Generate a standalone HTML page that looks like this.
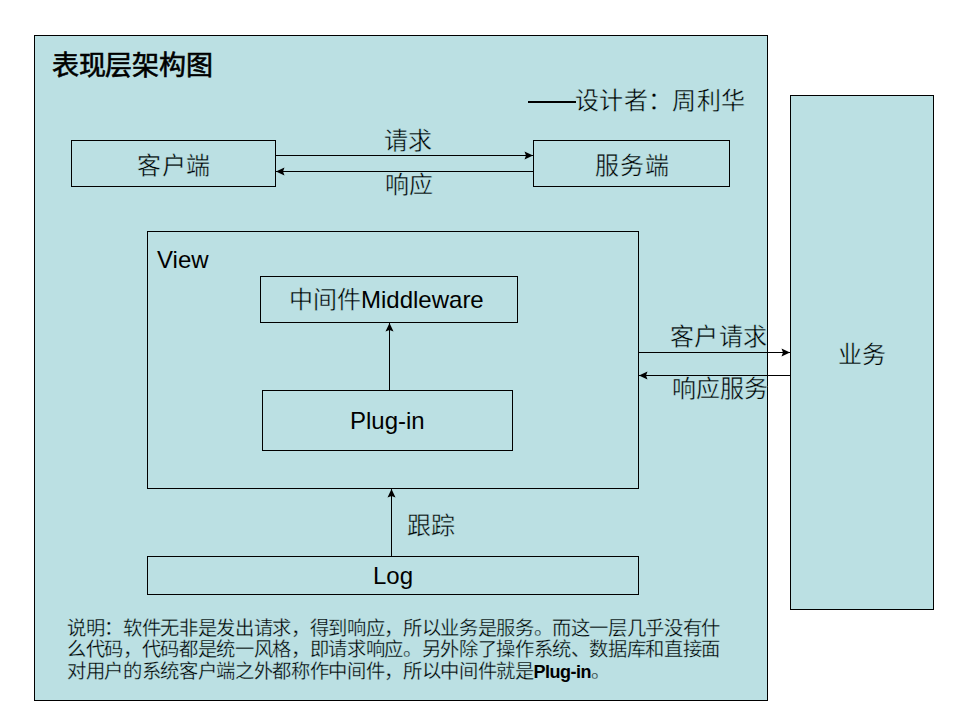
<!DOCTYPE html>
<html lang="zh-CN"><head><meta charset="utf-8">
<style>
html,body{margin:0;padding:0;}
body{width:960px;height:720px;background:#fff;position:relative;overflow:hidden;font-family:"Liberation Sans",sans-serif;color:#000;}
.b{position:absolute;box-sizing:border-box;border:1px solid #000;background:#bbe0e3;}
.h{position:absolute;height:1px;background:#000;}
.v{position:absolute;width:1px;background:#000;}
.t{position:absolute;white-space:nowrap;line-height:1;}
.cj{-webkit-text-stroke:0.4px #bbe0e3;}
.cp{-webkit-text-stroke:0.3px #bbe0e3;}
svg{position:absolute;left:0;top:0;}
</style></head><body>
<div class="b" style="left:34px;top:35px;width:734px;height:666px;"></div>
<div class="b" style="left:790px;top:95px;width:144px;height:515px;"></div>
<div class="b" style="left:71px;top:140px;width:205px;height:47px;"></div>
<div class="b" style="left:533px;top:140px;width:197px;height:47px;"></div>
<div class="b" style="left:147px;top:231px;width:492px;height:258px;"></div>
<div class="b" style="left:260px;top:276px;width:258px;height:47px;"></div>
<div class="b" style="left:262px;top:390px;width:251px;height:61px;"></div>
<div class="b" style="left:147px;top:556px;width:492px;height:39px;"></div>

<div class="h" style="left:276px;top:155px;width:257px;"></div>
<div class="h" style="left:276px;top:171px;width:257px;"></div>
<div class="v" style="left:389px;top:323px;height:67px;"></div>
<div class="v" style="left:391px;top:489px;height:67px;"></div>
<div class="h" style="left:639px;top:352px;width:151px;"></div>
<div class="h" style="left:639px;top:375px;width:151px;"></div>

<svg width="960" height="720" viewBox="0 0 960 720">
<polygon points="533,155.5 524.5,151.5 526,155.5 524.5,159.5" fill="#000"/>
<polygon points="276,171.5 284.5,167.5 283,171.5 284.5,175.5" fill="#000"/>
<polygon points="389.5,323 385.5,331.5 389.5,330 393.5,331.5" fill="#000"/>
<polygon points="391.5,489 387.5,497.5 391.5,496 395.5,497.5" fill="#000"/>
<polygon points="790,352.5 781.5,348.5 783,352.5 781.5,356.5" fill="#000"/>
<polygon points="639,375.5 647.5,371.5 646,375.5 647.5,379.5" fill="#000"/>
</svg>

<div class="t" style="left:52px;top:53px;font-size:27px;letter-spacing:-0.3px;-webkit-text-stroke:0.6px #000;">表现层架构图</div>
<div class="h" style="left:528px;top:101px;width:48px;height:2px;"></div>
<div class="t cj" style="left:575px;top:89px;font-size:24px;letter-spacing:0.35px;">设计者：周利华</div>
<div class="t cj" style="left:384px;top:129px;font-size:24px;">请求</div>
<div class="t cj" style="left:385px;top:173px;font-size:24px;">响应</div>
<div class="t cj" style="left:137px;top:154px;font-size:24px;letter-spacing:0.6px;">客户端</div>
<div class="t cj" style="left:595px;top:154px;font-size:24px;letter-spacing:0.8px;">服务端</div>
<div class="t" style="left:157px;top:248px;font-size:24px;">View</div>
<div class="t" style="left:289px;top:288px;font-size:24px;"><span class="cj">中间件</span>Middleware</div>
<div class="t" style="left:350px;top:409px;font-size:24px;">Plug-in</div>
<div class="t cj" style="left:407px;top:514px;font-size:24px;">跟踪</div>
<div class="t" style="left:373px;top:564px;font-size:24px;">Log</div>
<div class="t cj" style="left:670px;top:325px;font-size:24px;letter-spacing:0.3px;">客户请求</div>
<div class="t cj" style="left:672px;top:377px;font-size:24px;">响应服务</div>
<div class="t cj" style="left:838px;top:343px;font-size:24px;">业务</div>
<div class="t cp" style="left:67px;top:618px;font-size:19.3px;line-height:21.3px;letter-spacing:-0.34px;">说明：软件无非是发出请求，得到响应，所以业务是服务。而这一层几乎没有什<br>么代码，代码都是统一风格，即请求响应。另外除了操作系统、数据库和直接面<br>对用户的系统客户端之外都称作中间件，所以中间件就是<b style="font-weight:bold;-webkit-text-stroke:0;font-size:18px;letter-spacing:-0.5px;">Plug-in</b>。</div>
</body></html>
